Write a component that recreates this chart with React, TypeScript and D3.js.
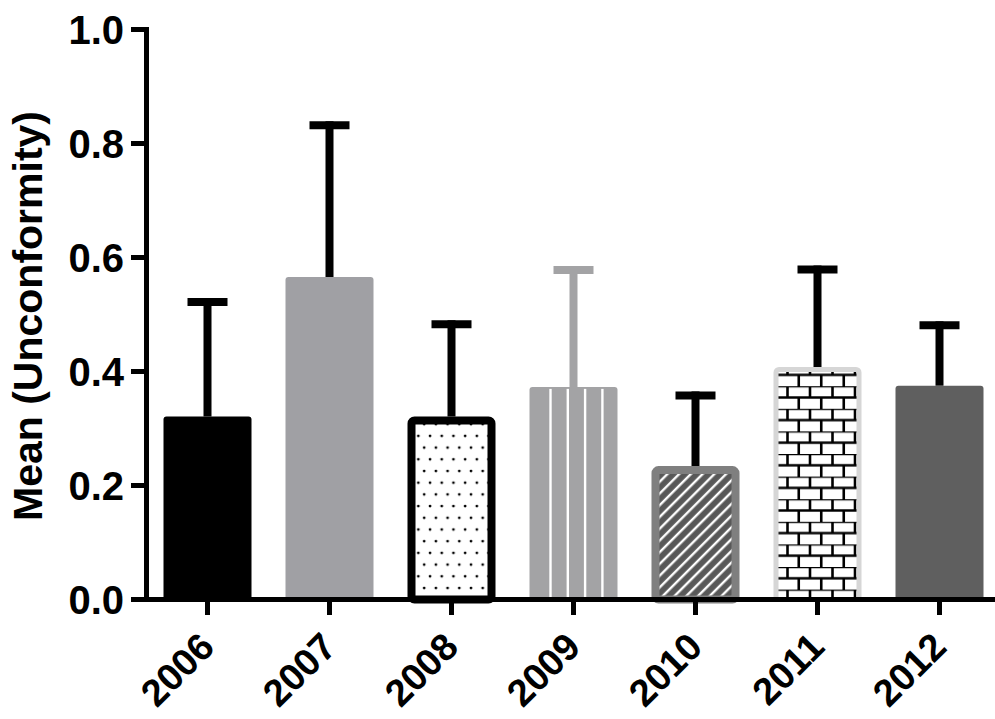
import React from "react";
import * as d3 from "d3";

const years = ["2006", "2007", "2008", "2009", "2010", "2011", "2012"];
const means = [0.321, 0.566, 0.321, 0.373, 0.234, 0.408, 0.375];
const sds = [0.201, 0.266, 0.162, 0.205, 0.124, 0.171, 0.106];
const yTicks = [0, 0.2, 0.4, 0.6, 0.8, 1.0];
const yLabel = "Mean (Unconformity)";

const W = 995;
const H = 719;
const FONT = "'Liberation Sans', Arial, Helvetica, sans-serif";

const styles = [
  { fill: "#000000", stroke: "none", sw: 0, err: "#000000" },
  { fill: "#a0a0a4", stroke: "none", sw: 0, err: "#000000" },
  { fill: "url(#dots)", stroke: "#000000", sw: 8, err: "#000000" },
  { fill: "#a3a3a5", stroke: "none", sw: 0, err: "#a3a3a5", stripes: true },
  { fill: "url(#hatch)", stroke: "#7f7f7f", sw: 8, err: "#000000" },
  { fill: "url(#bricks)", stroke: "#d6d6d6", sw: 5, err: "#000000" },
  { fill: "#5f5f5f", stroke: "none", sw: 0, err: "#000000" },
];

export default function App() {
  const axisX = 146.5;
  const y = d3.scaleLinear().domain([0, 1]).range([599.5, 29.5]);
  const x = d3.scalePoint<string>().domain(years).range([207.5, 939.5]);
  const barW = 88;
  const capW = 40;
  const fmt = d3.format(".1f");

  return (
    <svg
      width={W}
      height={H}
      style={{ position: "absolute", left: 0, top: 0, background: "#fff" }}
      fontFamily={FONT}
    >
      <defs>
        <pattern id="dots" patternUnits="userSpaceOnUse" width={11.7} height={23.4}>
          <rect width={11.7} height={23.4} fill="#fff" />
          <circle cx={3} cy={3} r={1.4} fill="#000" />
          <circle cx={8.85} cy={14.7} r={1.4} fill="#000" />
        </pattern>
        <pattern
          id="hatch"
          patternUnits="userSpaceOnUse"
          width={8.3}
          height={8.3}
          patternTransform="rotate(45)"
        >
          <rect width={8.3} height={8.3} fill="#585858" />
          <line x1={2} y1={0} x2={2} y2={8.3} stroke="#fff" strokeWidth={2.4} />
        </pattern>
        <pattern id="bricks" patternUnits="userSpaceOnUse" width={45} height={22.6} x={0} y={2}>
          <rect width={45} height={22.6} fill="#fff" />
          <line x1={0} y1={0} x2={45} y2={0} stroke="#000" strokeWidth={2.6} />
          <line x1={0} y1={11.3} x2={45} y2={11.3} stroke="#000" strokeWidth={2.6} />
          <line x1={0} y1={0} x2={0} y2={11.3} stroke="#000" strokeWidth={2.6} />
          <line x1={22.5} y1={0} x2={22.5} y2={11.3} stroke="#000" strokeWidth={2.6} />
          <line x1={45} y1={0} x2={45} y2={11.3} stroke="#000" strokeWidth={2.6} />
          <line x1={11.25} y1={11.3} x2={11.25} y2={22.6} stroke="#000" strokeWidth={2.6} />
          <line x1={33.75} y1={11.3} x2={33.75} y2={22.6} stroke="#000" strokeWidth={2.6} />
        </pattern>
      </defs>

      {/* error bars (behind bars) */}
      {years.map((yr, i) => {
        const cx = x(yr)!;
        const top = y(means[i] + sds[i]);
        const st = styles[i];
        return (
          <g key={"e" + yr}>
            <line x1={cx} x2={cx} y1={y(means[i])} y2={top - 4} stroke={st.err} strokeWidth={8} />
            <line x1={cx - capW / 2} x2={cx + capW / 2} y1={top} y2={top} stroke={st.err} strokeWidth={8} />
          </g>
        );
      })}

      {/* bars */}
      {years.map((yr, i) => {
        const cx = x(yr)!;
        const st = styles[i];
        const x0 = cx - barW / 2;
        const y0 = y(means[i]);
        const h = y(0) - y0;
        const inset = st.sw / 2;
        return (
          <g key={"b" + yr}>
            <rect
              x={x0 + inset}
              y={y0 + inset}
              width={barW - 2 * inset}
              height={h - inset}
              rx={3}
              fill={st.fill}
              stroke={st.stroke}
              strokeWidth={st.sw}
            />
            {st.stripes &&
              d3.range(4).map((k) => (
                <line
                  key={k}
                  x1={x0 + 21 + 17.3 * k}
                  x2={x0 + 21 + 17.3 * k}
                  y1={y0 + 2}
                  y2={y(0)}
                  stroke="#ffffff"
                  strokeWidth={2.4}
                />
              ))}
          </g>
        );
      })}

      {/* y axis */}
      <line x1={axisX} x2={axisX} y1={y(1) - 2.5} y2={y(0) + 2.5} stroke="#000" strokeWidth={5} />
      {yTicks.map((t) => (
        <g key={"yt" + t}>
          <line x1={131} x2={axisX} y1={y(t)} y2={y(t)} stroke="#000" strokeWidth={5} />
          <text
            x={124}
            y={y(t)}
            dy="0.36em"
            textAnchor="end"
            fontSize={40}
            fontWeight="bold"
            fill="#000"
          >
            {fmt(t)}
          </text>
        </g>
      ))}
      <text
        transform={`translate(42, 316) rotate(-90)`}
        textAnchor="middle"
        fontSize={41}
        fontWeight="bold"
        fill="#000"
      >
        {yLabel}
      </text>

      {/* x axis */}
      <line x1={axisX - 2.5} x2={W} y1={y(0)} y2={y(0)} stroke="#000" strokeWidth={5} />
      {years.map((yr) => {
        const cx = x(yr)!;
        return (
          <g key={"xt" + yr}>
            <line x1={cx} x2={cx} y1={y(0)} y2={615} stroke="#000" strokeWidth={5} />
            <text
              transform={`translate(${cx + 9}, 649) rotate(-45)`}
              textAnchor="end"
              fontSize={38}
              fontWeight="bold"
              fill="#000"
            >
              {yr}
            </text>
          </g>
        );
      })}
    </svg>
  );
}
